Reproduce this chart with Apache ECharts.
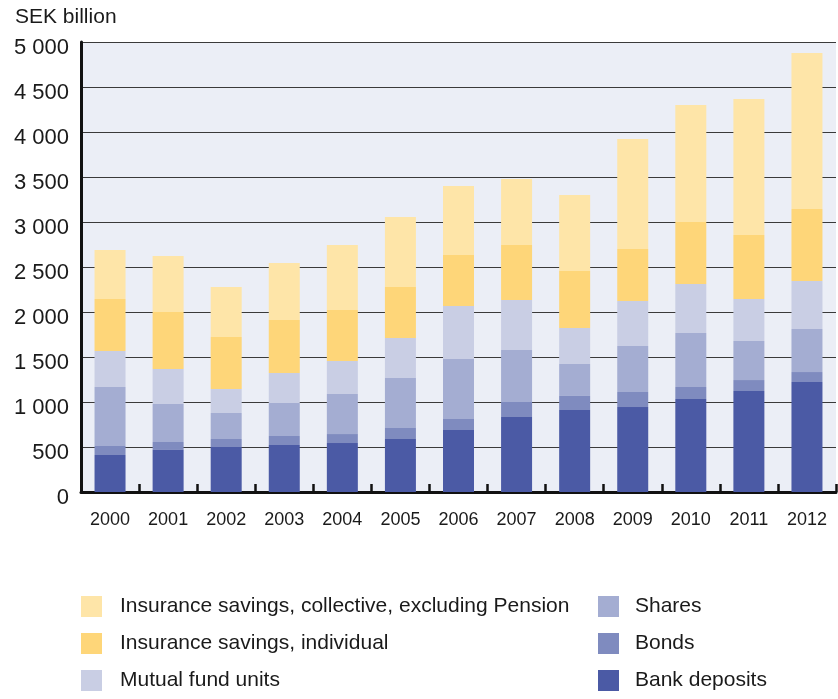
<!DOCTYPE html>
<html>
<head>
<meta charset="utf-8">
<script src="https://cdn.jsdelivr.net/npm/echarts@6/dist/echarts.min.js"></script>
<style>
  html, body { margin: 0; padding: 0; background: #fff; }
  #chart { width: 838px; height: 699px; }
</style>
</head>
<body>
<div id="chart"></div>
<script>
// Household financial assets by type, SEK billion
const years = ['2000','2001','2002','2003','2004','2005','2006','2007','2008','2009','2010','2011','2012'];

const bankDeposits = [411, 467, 500, 522, 544, 589, 689, 833, 911, 944, 1033, 1122, 1222];
const bonds        = [100,  89,  89, 100, 100, 122, 122, 167, 156, 167,  134,  122,  111];
const shares       = [656, 422, 289, 367, 445, 556, 667, 578, 355, 511,  600,  434,  478];
const mutualFunds  = [400, 389, 266, 333, 367, 444, 589, 555, 400, 500,  544,  466,  533];
const insIndividual= [577, 633, 578, 589, 566, 567, 566, 611, 634, 578,  689,  712,  800];
const insCollective= [545, 622, 556, 633, 722, 778, 767, 734, 844, 1222, 1300, 1511, 1734];

const yTicks = { min: 0, max: 5000, step: 500 };

const FONT = '"Liberation Sans", Arial, sans-serif';

const seriesDefs = [
  { name: 'Bank deposits', data: bankDeposits, color: '#4B5AA5' },
  { name: 'Bonds', data: bonds, color: '#7F8BBF' },
  { name: 'Shares', data: shares, color: '#A4ADD2' },
  { name: 'Mutual fund units', data: mutualFunds, color: '#C9CEE4' },
  { name: 'Insurance savings, individual', data: insIndividual, color: '#FED679' },
  { name: 'Insurance savings, collective, excluding Pension', data: insCollective, color: '#FEE5A8' }
];

// thousands separated by a space: 5000 -> "5 000"
const fmt = v => {
  const s = String(v);
  return s.length > 3 ? s.slice(0, s.length - 3) + ' ' + s.slice(-3) : s;
};

const legendCommon = {
  orient: 'vertical',
  itemWidth: 21,
  itemHeight: 21,
  itemGap: 16,
  padding: 0,
  icon: 'rect',
  selectedMode: false
};

const chart = echarts.init(document.getElementById('chart'), null, { renderer: 'canvas' });

chart.setOption({
  animation: false,
  backgroundColor: '#ffffff',
  title: {
    text: 'SEK billion',
    left: 10,
    top: 2,
    textStyle: { fontFamily: FONT, fontSize: 21, fontWeight: 'normal', color: '#1a1a1a' }
  },
  legend: [
    Object.assign({}, legendCommon, {
      left: 81, top: 596, height: 110,
      textStyle: { fontFamily: FONT, fontSize: 21, color: '#1a1a1a', padding: [0, 0, 0, 13] },
      data: ['Insurance savings, collective, excluding Pension', 'Insurance savings, individual', 'Mutual fund units']
    }),
    Object.assign({}, legendCommon, {
      left: 598, top: 596, height: 110,
      textStyle: { fontFamily: FONT, fontSize: 21, color: '#1a1a1a', padding: [0, 0, 0, 11] },
      data: ['Shares', 'Bonds', 'Bank deposits']
    })
  ],
  grid: {
    left: 81, right: 2, top: 42, bottom: 207,
    show: true,
    backgroundColor: '#EBEEF6',
    borderWidth: 0,
    containLabel: false
  },
  xAxis: {
    type: 'category',
    data: years,
    boundaryGap: true,
    axisLine: { show: true, lineStyle: { color: '#111', width: 3 } },
    axisTick: { show: true, inside: true, length: 8, lineStyle: { color: '#111', width: 2.5 } },
    axisLabel: { fontFamily: FONT, fontSize: 18, color: '#1a1a1a', margin: 19 }
  },
  yAxis: {
    type: 'value',
    min: yTicks.min,
    max: yTicks.max,
    interval: yTicks.step,
    axisLine: { show: true, lineStyle: { color: '#111', width: 3 } },
    axisTick: { show: false },
    axisLabel: {
      margin: 12,
      formatter: v => '{v|' + fmt(v) + '}',
      rich: {
        v: { fontFamily: FONT, fontSize: 22, color: '#1a1a1a', padding: [11, 0, 0, 0] }
      }
    },
    splitLine: { show: true, lineStyle: { color: '#3a3a3a', width: 1.2 } }
  },
  series: seriesDefs.map(s => ({
    name: s.name,
    type: 'bar',
    stack: 'total',
    barWidth: 31,
    data: s.data,
    itemStyle: { color: s.color },
    emphasis: { disabled: true }
  }))
});
</script>
</body>
</html>
